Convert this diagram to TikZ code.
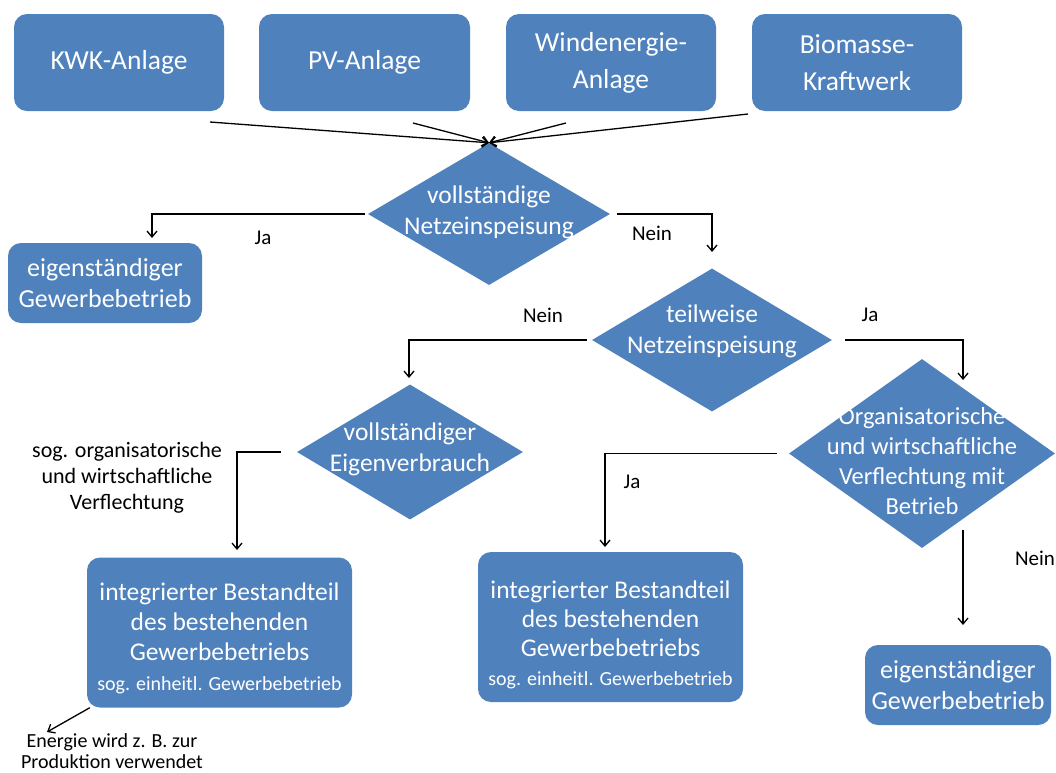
\documentclass[tikz,border=0pt]{standalone}
\usepackage{fontspec}
\setmainfont{Carlito}
\usetikzlibrary{shapes.geometric,arrows.meta}
\definecolor{boxblue}{HTML}{4F81BD}
\begin{document}
\begin{tikzpicture}[x=1pt,y=-1pt,
 box/.style={draw=none, fill=boxblue, rounded corners=13pt, text=white, align=center, inner sep=0pt},
 dia/.style={diamond, fill=boxblue, inner sep=0pt},
 dtext/.style={text=white, align=center, font=\fontsize{25.5}{31}\selectfont},
 lbl/.style={text=black, font=\fontsize{21}{24}\selectfont},
 arr/.style={draw=black, line width=1.3pt, -{Straight Barb[length=6pt,width=10pt]}},
 big/.style={font=\fontsize{27.5}{37}\selectfont},
 mid/.style={font=\fontsize{26}{31}\selectfont},
 integ/.style={box, minimum width=265pt, minimum height=150pt, font=\fontsize{25.5}{30}\selectfont},
]
\useasboundingbox (0,0) rectangle (1056,772);
\fill[white] (0,0) rectangle (1056,772);

% top boxes
\node[box,big,minimum width=210pt,minimum height=97pt] (kwk) at (119,62.5) {KWK-Anlage};
\node[box,big,minimum width=211pt,minimum height=97pt] (pv) at (364.5,62.5) {PV-Anlage};
\node[box,big,minimum width=210pt,minimum height=97pt] (wind) at (611,62.5) {Windenergie-\\Anlage};
\node[box,big,minimum width=210pt,minimum height=97pt] (bio) at (857,62.5) {Biomasse-\\Kraftwerk};

% diamonds
\node[dia, minimum width=242pt, minimum height=142pt] (d1) at (489,214) {};
\node[dtext] (d1t) at ([yshift=2pt]d1.center) {vollständige\\Netzeinspeisung};
\node[dia, minimum width=240pt, minimum height=143pt] (d2) at (712,340) {};
\node[dtext] (d2t) at ([yshift=9pt]d2.center) {teilweise\\Netzeinspeisung};
\node[dia, minimum width=226pt, minimum height=135pt] (d3) at (410,452) {};
\node[dtext] (d3t) at ([yshift=3pt]d3.center) {vollständiger\\Eigenverbrauch};
\node[dia, minimum width=266pt, minimum height=189pt] (d4) at (922,453.5) {};
\node[text=white, align=center, font=\fontsize{24.5}{30}\selectfont] (d4t) at ([yshift=-8pt]d4.center) {Organisatorische\\und wirtschaftliche\\Verflechtung mit\\Betrieb};

% result boxes
\node[box,mid,minimum width=194pt,minimum height=80pt] (e1) at (105,283) {eigenständiger\\Gewerbebetrieb};
\node[integ] (i1) at (219.5,632.5) {};
\node[text=white, align=center, font=\fontsize{25.5}{30}\selectfont] (i1t) at ([yshift=-6pt]i1.center) {integrierter Bestandteil\\des bestehenden\\Gewerbebetriebs\\{\fontsize{20}{27}\selectfont sog. einheitl. Gewerbebetrieb}};
\node[integ] (i2) at (610.5,627) {};
\node[text=white, align=center, font=\fontsize{25.5}{29}\selectfont] (i2t) at ([yshift=-8pt]i2.center) {integrierter Bestandteil\\des bestehenden\\Gewerbebetriebs\\{\fontsize{20}{27}\selectfont sog. einheitl. Gewerbebetrieb}};
\node[box,mid,minimum width=186pt,minimum height=80pt] (e2) at (958,685) {eigenständiger\\Gewerbebetrieb};

% free ends
\coordinate (s1) at (210,122);
\coordinate (s2) at (413,123);
\coordinate (s3) at (566,123);
\coordinate (s4) at (748,114);
\coordinate (j1) at (152,238);
\coordinate (n1) at (712,252);
\coordinate (n2) at (409,378);
\coordinate (j2) at (963,380);
\coordinate (v1) at (237,550);
\coordinate (j3) at (605,547);
\coordinate (n4) at (963,625);
\coordinate (en) at (47,732);

% connectors
\draw[arr] (s1) -- (d1.north);
\draw[arr] (s2) -- (d1.north);
\draw[arr] (s3) -- (d1.north);
\draw[arr] (s4) -- (d1.north);
\draw[arr] ([xshift=-3pt]d1.west) -| (j1);
\draw[arr] ([xshift=7pt]d1.east) -| (n1);
\draw[arr] ([xshift=-5pt]d2.west) -| (n2);
\draw[arr] ([xshift=13pt]d2.east) -| (j2);
\draw[arr] ([xshift=-16pt]d3.west) -| (v1);
\draw[arr] ([xshift=-12pt]d4.west) -| (j3);
\draw[arr] ([xshift=41pt,yshift=18pt]d4.south) -- (n4);
\draw[arr] ([xshift=3pt]i1.south west) -- (en);

% labels
\node[lbl] (lja1) at (263,238) {Ja};
\node[lbl] (lnein1) at (652,233) {Nein};
\node[lbl] (lnein2) at (543,315) {Nein};
\node[lbl] (lja2) at (870,315) {Ja};
\node[lbl] (lja3) at (632,482) {Ja};
\node[lbl] (lnein4) at (1035,558) {Nein};
\node[text=black, align=center, font=\fontsize{22}{26}\selectfont] (sog) at (127,478) {sog. organisatorische\\und wirtschaftliche\\Verflechtung};
\node[text=black, align=center, font=\fontsize{20}{21}\selectfont] (energie) at (112,751) {Energie wird z. B. zur\\Produktion verwendet};
\end{tikzpicture}
\end{document}
